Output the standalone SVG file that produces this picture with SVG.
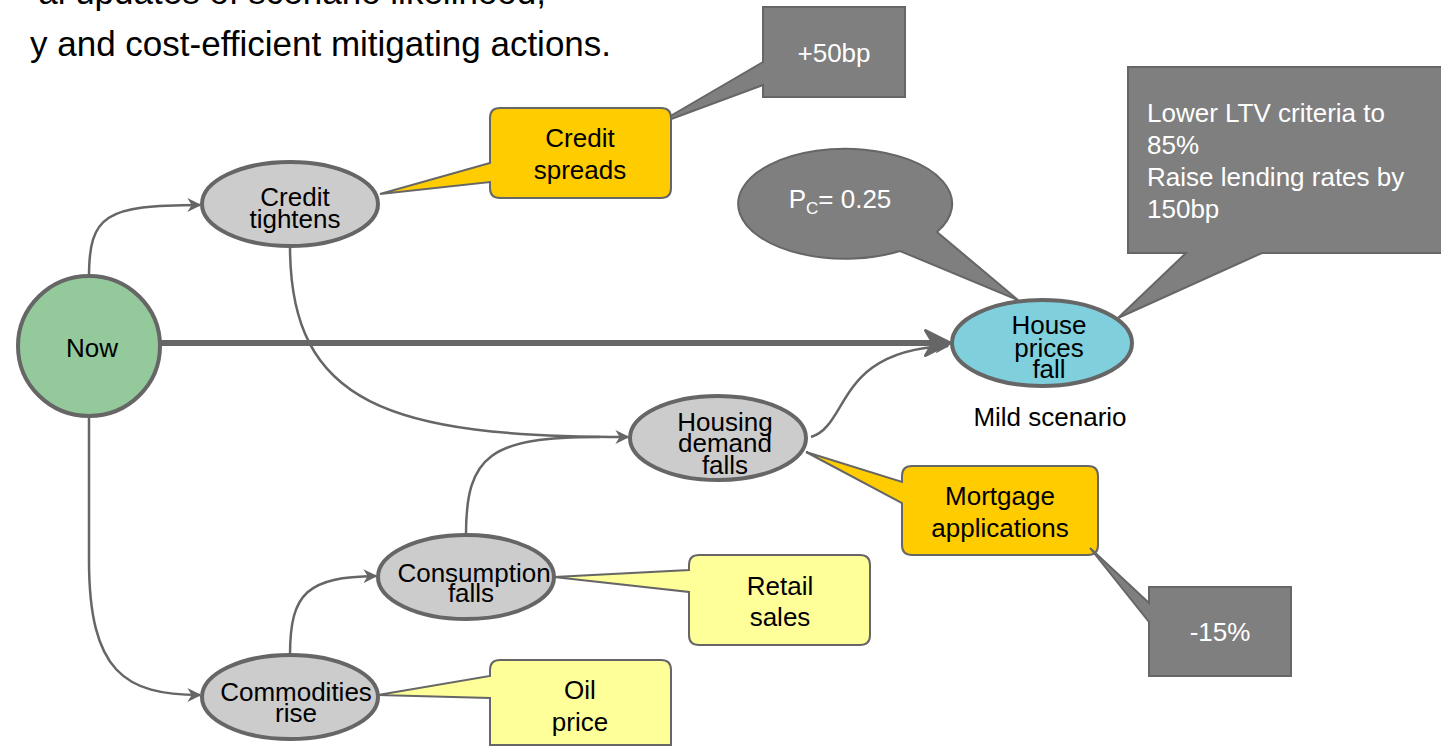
<svg xmlns="http://www.w3.org/2000/svg" width="1441" height="747" viewBox="0 0 1441 747">
  <defs>
    <style>
      .lbl { font-family: "Liberation Sans", Arial, sans-serif; font-size: 26px; fill: #000; text-anchor: middle; }
      .wlbl { font-family: "Liberation Sans", Arial, sans-serif; font-size: 26px; fill: #fff; text-anchor: middle; }
      .left { text-anchor: start; }
      .head { font-family: "Liberation Sans", Arial, sans-serif; font-size: 35px; fill: #000; }
      .end { text-anchor: end; }
      .node { stroke: #666; stroke-width: 4; }
      .grey { fill: #cccccc; }
      .edge { fill: none; stroke: #666; stroke-width: 2.5; }
      .thick { fill: none; stroke: #666; stroke-width: 6; }
      .call { stroke: #666; stroke-width: 2; stroke-linejoin: miter; }
      .amber { fill: #ffcc00; }
      .pale { fill: #ffff99; }
      .dark { fill: #7f7f7f; }
    </style>
    <marker id="arr" viewBox="0 0 10 10" refX="9" refY="5" markerWidth="14" markerHeight="14" markerUnits="userSpaceOnUse" orient="auto">
      <path d="M0,0 L10,5 L0,10 L3,5 Z" fill="#666"/>
    </marker>
    <marker id="arrBig" viewBox="0 0 12 12" refX="10" refY="6" markerWidth="30" markerHeight="30" markerUnits="userSpaceOnUse" orient="auto">
      <path d="M1,1 L11,6 L1,11 L4,6 Z" fill="#666" stroke="#666" stroke-width="1.2" stroke-linejoin="round"/>
    </marker>
  </defs>

  <rect width="1441" height="747" fill="#fff"/>

  <!-- heading lines -->
  <text class="head end" x="546" y="4">al updates of scenario likelihood,</text>
  <text class="head" x="30" y="56">y and cost-efficient mitigating actions.</text>

  <!-- connectors -->
  <g id="connectors">
    <path class="edge" d="M89,277 C89,215 105,205 200,205" marker-end="url(#arr)"/>
    <path class="edge" d="M89,416 L89,560 C89,672 125,695 200,695" marker-end="url(#arr)"/>
    <path class="thick" d="M160,343 L948,343" marker-end="url(#arrBig)"/>
    <path class="edge" d="M290,246 C290,405 390,437 628,437" marker-end="url(#arr)"/>
    <path class="edge" d="M466,535 C466,455 490,437 600,437"/>
    <path class="edge" d="M290,655 C290,592 308,577 376,576" marker-end="url(#arr)"/>
    <path class="edge" d="M811,437 C850,425 835,350 948,346" marker-end="url(#arr)"/>
  </g>

  <!-- callouts -->
  <g id="callout-plus50">
    <path class="call dark" d="M763,7 H905 V97 H763 V85 L655,125 L763,62 Z"/>
    <text class="wlbl" x="834" y="62">+50bp</text>
  </g>
  <g id="callout-credit-spreads">
    <path class="call amber" d="M500,108 H661 Q671,108 671,118 V188 Q671,198 661,198 H500 Q490,198 490,188 V182 L380,194 L490,163 V118 Q490,108 500,108 Z"/>
    <text class="lbl" x="580" y="147">Credit</text>
    <text class="lbl" x="580" y="179">spreads</text>
  </g>
  <g id="callout-pc">
    <path class="call dark" d="M937,232 L1018,300 L900,251 A107,55 0 1 1 937,232 Z"/>
    <text class="wlbl" x="840" y="208">P<tspan font-size="17" dy="6">C</tspan><tspan dy="-6">= 0.25</tspan></text>
  </g>
  <g id="callout-ltv">
    <path class="call dark" d="M1128,67 H1443 V253 H1262 L1118,318 L1186,253 H1128 Z"/>
    <text class="wlbl left" x="1147" y="122">Lower LTV criteria to</text>
    <text class="wlbl left" x="1147" y="154">85%</text>
    <text class="wlbl left" x="1147" y="186">Raise lending rates by</text>
    <text class="wlbl left" x="1147" y="218">150bp</text>
  </g>
  <g id="callout-mortgage">
    <path class="call amber" d="M912,466 H1088 Q1098,466 1098,476 V545 Q1098,555 1088,555 H912 Q902,555 902,545 V503 L806,452 L902,482 V476 Q902,466 912,466 Z"/>
    <text class="lbl" x="1000" y="505">Mortgage</text>
    <text class="lbl" x="1000" y="537">applications</text>
  </g>
  <g id="callout-minus15">
    <path class="call dark" d="M1149,587 H1291 V676 H1149 V622 L1090,548 L1149,603 Z"/>
    <text class="wlbl" x="1220" y="641">-15%</text>
  </g>
  <g id="callout-retail">
    <path class="call pale" d="M699,555 H860 Q870,555 870,565 V635 Q870,645 860,645 H699 Q689,645 689,635 V592 L554,577 L689,570 V565 Q689,555 699,555 Z"/>
    <text class="lbl" x="780" y="595">Retail</text>
    <text class="lbl" x="780" y="626">sales</text>
  </g>
  <g id="callout-oil">
    <path class="call pale" d="M500,660 H661 Q671,660 671,670 V745 H490 V698 L378,695 L490,676 V670 Q490,660 500,660 Z"/>
    <text class="lbl" x="580" y="699">Oil</text>
    <text class="lbl" x="580" y="731">price</text>
  </g>

  <!-- nodes -->
  <g id="node-now">
    <ellipse class="node" cx="89" cy="346" rx="71" ry="70" fill="#93c99b"/>
    <text class="lbl" x="92" y="357">Now</text>
  </g>
  <g id="node-credit-tightens">
    <ellipse class="node grey" cx="290" cy="204" rx="88" ry="42"/>
    <text class="lbl" x="295" y="206">Credit</text>
    <text class="lbl" x="295" y="228">tightens</text>
  </g>
  <g id="node-housing-demand">
    <ellipse class="node grey" cx="718" cy="438" rx="88" ry="42"/>
    <text class="lbl" x="725" y="431">Housing</text>
    <text class="lbl" x="725" y="452">demand</text>
    <text class="lbl" x="725" y="474">falls</text>
  </g>
  <g id="node-consumption">
    <ellipse class="node grey" cx="466" cy="577" rx="88" ry="42"/>
    <text class="lbl" x="474" y="582">Consumption</text>
    <text class="lbl" x="471" y="602">falls</text>
  </g>
  <g id="node-commodities">
    <ellipse class="node grey" cx="290" cy="697" rx="88" ry="42"/>
    <text class="lbl" x="296" y="701">Commodities</text>
    <text class="lbl" x="296" y="722">rise</text>
  </g>
  <g id="node-house-prices">
    <ellipse class="node" cx="1042" cy="343" rx="90" ry="43" fill="#7fd0dc"/>
    <text class="lbl" x="1049" y="334">House</text>
    <text class="lbl" x="1049" y="357">prices</text>
    <text class="lbl" x="1049" y="378">fall</text>
  </g>
  <text class="lbl" x="1050" y="426">Mild scenario</text>
</svg>
